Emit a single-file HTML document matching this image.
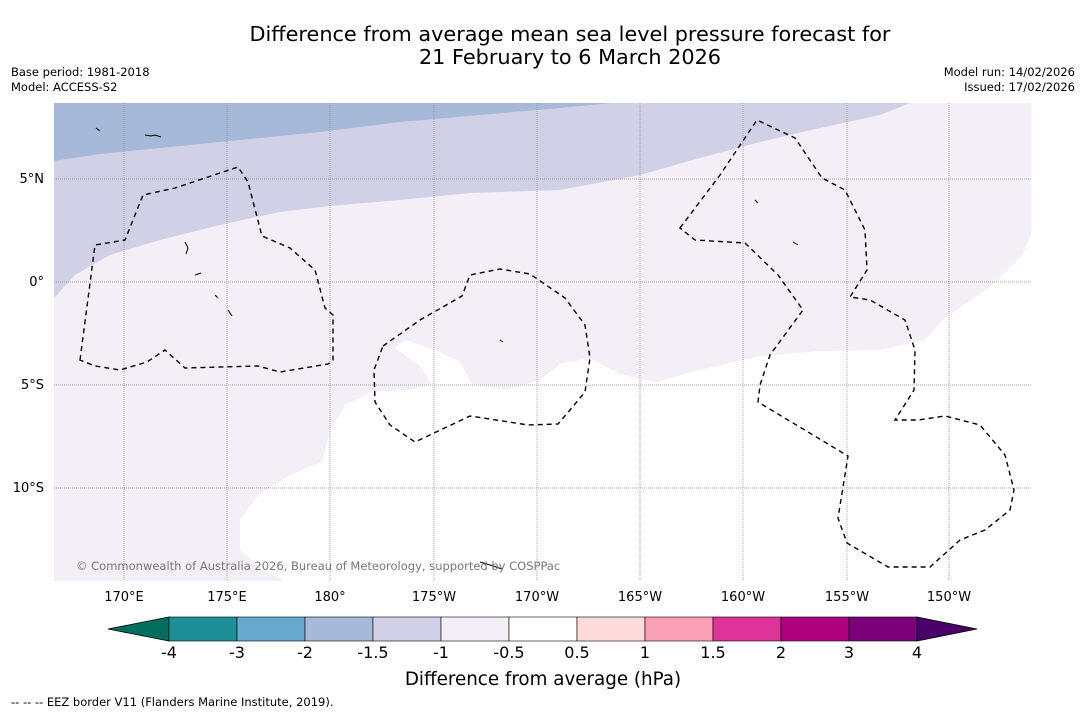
<!DOCTYPE html>
<html><head><meta charset="utf-8"><style>
body{margin:0;background:#fff;font-family:"Liberation Sans","DejaVu Sans",sans-serif;}
svg text{font-family:"DejaVu Sans","Liberation Sans",sans-serif;}
</style></head><body>
<svg width="1085" height="713" viewBox="0 0 1085 713">
<text x="570" y="41" text-anchor="middle" font-size="20.8">Difference from average mean sea level pressure forecast for</text>
<text x="570" y="64" text-anchor="middle" font-size="20.8">21 February to 6 March 2026</text>
<text x="11" y="76" font-size="11.5">Base period: 1981-2018</text>
<text x="11" y="91" font-size="11.5">Model: ACCESS-S2</text>
<text x="1075" y="76" font-size="11.5" text-anchor="end">Model run: 14/02/2026</text>
<text x="1075" y="91" font-size="11.5" text-anchor="end">Issued: 17/02/2026</text>
<g>
<clipPath id="mc"><rect x="54" y="103" width="977" height="478"/></clipPath>
<g clip-path="url(#mc)">
<rect x="54" y="103" width="977" height="478" fill="#f4eef6"/>
<path d="M54,103 L910,103 L880,115 L820,128 L760,142 L700,158 L640,175 L560,190 L470,193 L400,200 L330,206 L280,212 L220,225 L160,240 L110,255 L75,275 L54,298 Z" fill="#d0d1e6"/>
<path d="M54,103 L612,103 L560,108 L480,115 L400,122 L320,132 L240,140 L160,148 L100,154 L54,161 Z" fill="#a7b9d9"/>
<path d="M1031,235 L1022,255 L990,287 L945,318 L925,340 L880,350 L820,351 L760,356 L700,370 L655,382 L620,374 L590,358 L560,364 L540,380 L505,390 L472,384 L460,362 L440,352 L405,340 L395,348 L420,366 L432,384 L410,390 L372,392 L345,405 L330,430 L322,462 L290,475 L258,495 L240,520 L240,550 L262,570 L285,581 L1031,581 Z" fill="#ffffff"/>
<g stroke="#888" stroke-width="0.7" stroke-dasharray="1,1">
<line x1="124" y1="103" x2="124" y2="581"/><line x1="227" y1="103" x2="227" y2="581"/><line x1="330" y1="103" x2="330" y2="581"/><line x1="434" y1="103" x2="434" y2="581"/><line x1="537" y1="103" x2="537" y2="581"/><line x1="640" y1="103" x2="640" y2="581"/><line x1="743" y1="103" x2="743" y2="581"/><line x1="847" y1="103" x2="847" y2="581"/><line x1="949" y1="103" x2="949" y2="581"/>
<line x1="54" y1="179" x2="1031" y2="179"/><line x1="54" y1="282" x2="1031" y2="282"/><line x1="54" y1="385" x2="1031" y2="385"/><line x1="54" y1="488" x2="1031" y2="488"/>
</g>
<g fill="none" stroke="#000" stroke-width="1.4" stroke-dasharray="5,4">
<path d="M80,360 L95,245 L125,240 L143,195 L175,188 L238,167 L248,182 L262,236 L290,248 L315,270 L325,308 L333,315 L333,360 L328,364 L280,372 L258,366 L185,368 L165,350 L147,362 L120,370 L95,366 Z"/>
<path d="M383,346 L420,320 L462,296 L470,275 L500,269 L530,274 L565,298 L585,325 L590,358 L585,392 L570,410 L558,424 L528,425 L470,416 L415,442 L390,425 L375,402 L374,370 Z"/>
<path d="M680,228 L720,175 L757,120 L795,138 L822,178 L845,190 L865,230 L867,270 L850,297 L870,300 L905,320 L915,350 L914,390 L895,420 L918,420 L945,416 L980,425 L1005,455 L1014,490 L1010,510 L985,530 L960,540 L930,567 L888,567 L847,543 L838,518 L848,456 L758,402 L760,385 L770,355 L803,310 L778,275 L745,243 L695,240 Z"/>
</g>
<g fill="none" stroke="#000" stroke-width="1">
<path d="M145,135 l6,1 l4,-1 l6,2 M185,242 l3,6 l-2,6 M195,275 l6,-2 M215,295 l3,3 M228,310 l4,6 M500,340 l3,2 M755,200 l3,3 M793,242 l5,3 M480,562 l10,3 l12,4 M96,128 l4,3"/>
</g>
</g>
<text x="76" y="570" font-size="11.5" fill="#777">© Commonwealth of Australia 2026, Bureau of Meteorology, supported by COSPPac</text>
</g>
<g font-size="13">
<text x="44" y="183" text-anchor="end">5°N</text><text x="44" y="286" text-anchor="end">0°</text><text x="44" y="389" text-anchor="end">5°S</text><text x="44" y="492" text-anchor="end">10°S</text>
</g>
<g font-size="13" text-anchor="middle">
<text x="124" y="601">170°E</text><text x="227" y="601">175°E</text><text x="330" y="601">180°</text><text x="434" y="601">175°W</text><text x="537" y="601">170°W</text><text x="640" y="601">165°W</text><text x="743" y="601">160°W</text><text x="847" y="601">155°W</text><text x="949" y="601">150°W</text>
</g>
<g id="cb"></g>
<text x="543" y="685" text-anchor="middle" font-size="18.3">Difference from average (hPa)</text>
<text x="11" y="706" font-size="11.5">--  --  -- EEZ border V11 (Flanders Marine Institute, 2019).</text>
</svg>
<script>
const colors=["#1e9095","#67a9cf","#a7b9d9","#d0d1e6","#f4eef6","#ffffff","#fddbda","#f9a0b6","#dd3497","#ae017e","#7a0177"];
const ticks=["-4","-3","-2","-1.5","-1","-0.5","0.5","1","1.5","2","3","4"];
const cb=document.getElementById('cb');
const NS="http://www.w3.org/2000/svg";
const x0=169,w=68,y0=617,h=24;
function mk(t,a){const e=document.createElementNS(NS,t);for(const k in a)e.setAttribute(k,a[k]);cb.appendChild(e);return e;}
let l=mk('polygon',{points:`${x0},${y0} ${x0},${y0+h} 108,${y0+h/2}`,fill:"#006d5f",stroke:"#000","stroke-width":0.8});


let r=mk('polygon',{points:`${x0+w*11},${y0} ${x0+w*11},${y0+h} 977,${y0+h/2}`,fill:"#49006a",stroke:"#000","stroke-width":0.8});


colors.forEach((c,i)=>{const e=mk('rect',{x:x0+i*w,y:y0,width:w,height:h,fill:c,stroke:"#000","stroke-width":0.6});

});
ticks.forEach((t,i)=>{const e=mk('text',{x:x0+i*w,y:658,"text-anchor":"middle","font-size":16});e.textContent=t;

});
</script>
</body></html>
